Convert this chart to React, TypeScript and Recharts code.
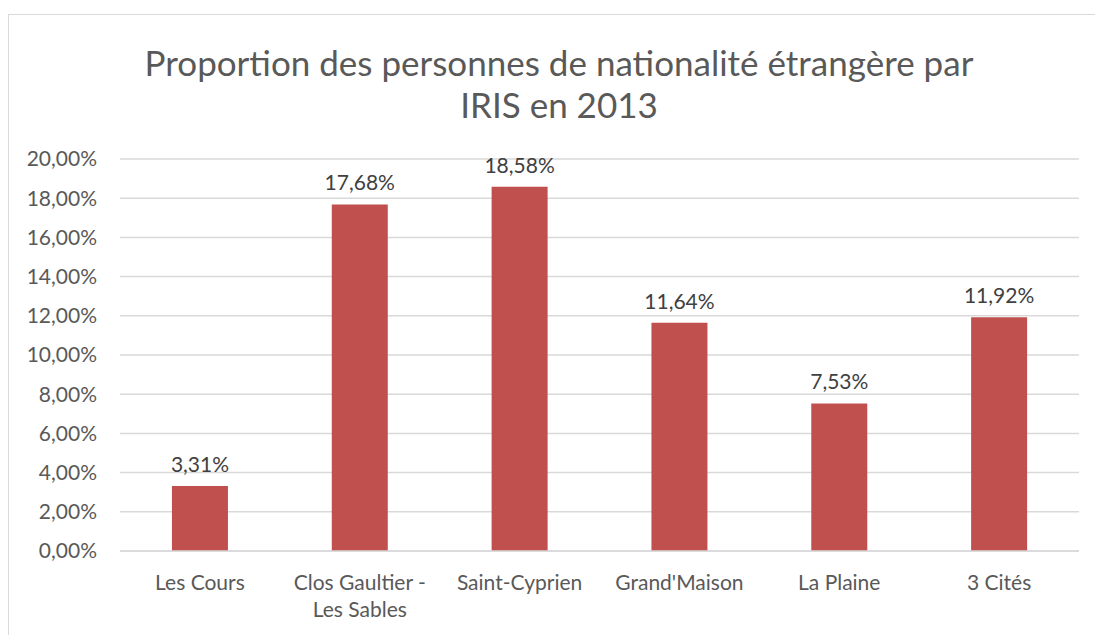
import { BarChart, Bar, XAxis, YAxis, CartesianGrid, LabelList } from "recharts";

const categories = ["Les Cours", "Clos Gaultier - Les Sables", "Saint-Cyprien", "Grand'Maison", "La Plaine", "3 Cités"];
const values = [3.31, 17.68, 18.58, 11.64, 7.53, 11.92];
const yTicks = [0, 2, 4, 6, 8, 10, 12, 14, 16, 18, 20];
const tickLines: Record<string, string[]> = {
  "Clos Gaultier - Les Sables": ["Clos Gaultier -", "Les Sables"],
};

const data = categories.map((name, i) => ({ name, value: values[i] }));
const pct = (v: number) => v.toFixed(2).replace(".", ",") + "%";
const FONT = "Lato, 'Noto Sans', sans-serif";

function CatTick({ x, y, payload }: any) {
  const lines = tickLines[payload.value] || [payload.value];
  return (
    <text x={x} y={y} textAnchor="middle" fill="#595959" fontSize={21} fontFamily={FONT}>
      {lines.map((l, i) => (
        <tspan key={i} x={x} dy={i === 0 ? 31 : 27}>
          {l}
        </tspan>
      ))}
    </text>
  );
}

export default function App() {
  return (
    <div style={{ position: "absolute", left: 0, top: 0, width: 1095, height: 635, overflow: "hidden", background: "#fff" }}>
      <div
        style={{
          position: "absolute",
          left: 8,
          top: 14,
          width: 1200,
          height: 700,
          border: "1px solid #d9d9d9",
        }}
      />
      <div
        style={{
          position: "absolute",
          left: 0,
          top: 41,
          width: 1118,
          textAlign: "center",
          fontFamily: FONT,
          fontSize: 35,
          lineHeight: "42px",
          color: "#595959",
        }}
      >
        Proportion des personnes de nationalité étrangère par
        <br />
        IRIS en 2013
      </div>
      <div style={{ position: "absolute", left: 0, top: 0 }}>
        <BarChart
          width={1095}
          height={635}
          data={data}
          margin={{ top: 159, right: 16, bottom: 24, left: 20 }}
          barCategoryGap="32.5%"
        >
          <CartesianGrid vertical={false} stroke="#d9d9d9" strokeWidth={1.5} />
          <XAxis
            dataKey="name"
            height={60}
            axisLine={{ stroke: "#d9d9d9", strokeWidth: 1.5 }}
            tickLine={false}
            tick={<CatTick />}
            interval={0}
          />
          <YAxis
            width={100}
            domain={[0, 20]}
            ticks={yTicks}
            tickFormatter={pct}
            axisLine={false}
            tickLine={false}
            tickSize={0}
            tickMargin={23}
            tick={{ fill: "#595959", fontSize: 21, fontFamily: FONT }}
          />
          <Bar dataKey="value" fill="#c0504d" isAnimationActive={false}>
            <LabelList
              dataKey="value"
              position="top"
              offset={14}
              formatter={(v: any) => pct(Number(v))}
              fill="#404040"
              fontSize={21}
              fontFamily={FONT}
            />
          </Bar>
        </BarChart>
      </div>
    </div>
  );
}
